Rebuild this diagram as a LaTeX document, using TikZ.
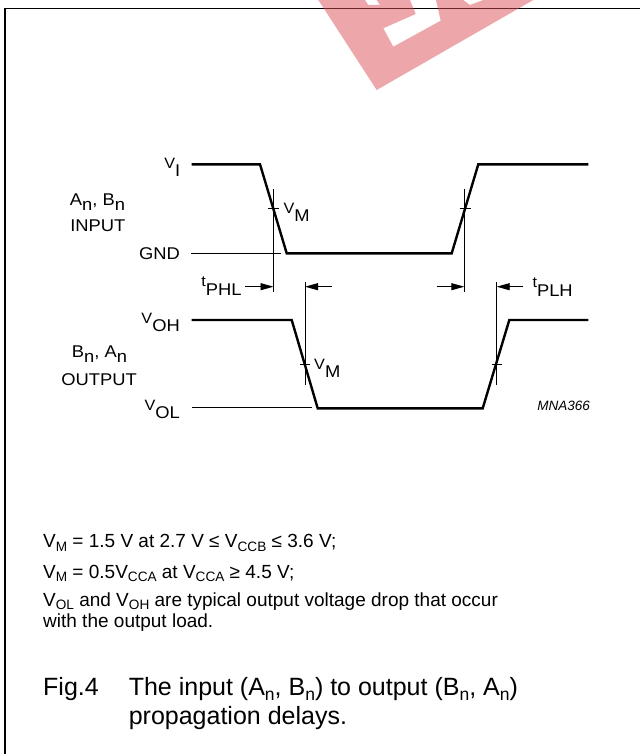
\documentclass[tikz,border=0pt]{standalone}
\usepackage{fontspec}
\setmainfont{Liberation Sans}
\newfontfamily\lblfont{Liberation Sans}[FakeStretch=1.08]
\usetikzlibrary{arrows.meta}
\definecolor{wmred}{RGB}{219,77,83}
\newcommand\Vsub[1]{{\fontsize{15bp}{15bp}\selectfont V}\raisebox{-8bp}{#1}}
\newcommand\tsub[1]{{\fontsize{15bp}{15bp}\selectfont t}\raisebox{-9bp}{#1}}
\newcommand\nsub{\raisebox{-5.5bp}{n}}
\newcommand\ssub[1]{\raisebox{-3.5bp}{\fontsize{13.6bp}{13.6bp}\selectfont #1}}
\newcommand\csub[1]{\raisebox{-5bp}{\fontsize{17.5bp}{17.5bp}\selectfont #1}}
\begin{document}
\begin{tikzpicture}[x=1bp,y=-1bp,
  wave/.style={line width=2.4bp, line join=miter},
  thinline/.style={line width=0.9bp},
  dimarrow/.style={line width=0.9bp, -{Triangle[length=13bp,width=7bp]}},
  lbl/.style={inner sep=0pt, font=\lblfont\fontsize{17bp}{20bp}\selectfont},
  note/.style={inner sep=0pt, anchor=base west, font=\fontsize{19bp}{22bp}\selectfont},
  captxt/.style={inner sep=0pt, anchor=base west, font=\fontsize{25bp}{30bp}\selectfont}]
\useasboundingbox (0,0) rectangle (640,754);
% frame
\coordinate (fb) at (5,754);
\coordinate (fc) at (5,8.5);
\coordinate (fr) at (640,8.5);
\draw[line width=1.6bp] (fb) -- (fc) -- (fr);
% watermark
\fill[wmred, opacity=0.5, even odd rule]
  (318.3,0) -- (533.3,0) -- (376.7,90) -- cycle
  (383.3,28.3) -- (393.3,46.7) -- (440.7,20.7) -- (436,0) -- (410,0) -- (415.7,14) -- cycle
  (365,0) -- (376.7,0) -- (380,5) -- (368.3,5) -- cycle
  (463.3,0) -- (483.3,0) -- (470,5) -- cycle;
% input waveform
\coordinate (iA) at (191.7,164.3);
\coordinate (iB) at (260,164.3);
\coordinate (iC) at (286.7,253.3);
\coordinate (iD) at (451.7,253.3);
\coordinate (iE) at (478.3,164.3);
\coordinate (iF) at (588.3,164.3);
\draw[wave] (iA) -- (iB) -- (iC) -- (iD) -- (iE) -- (iF);
\coordinate (g0) at (191,253.3);
\coordinate (g1) at (281,253.3);
\draw[thinline] (g0) -- (g1);
% output waveform
\coordinate (oA) at (191.7,320);
\coordinate (oB) at (291.7,320);
\coordinate (oC) at (317.7,408.3);
\coordinate (oD) at (482.7,408.3);
\coordinate (oE) at (509.3,320);
\coordinate (oF) at (588.3,320);
\draw[wave] (oA) -- (oB) -- (oC) -- (oD) -- (oE) -- (oF);
\coordinate (l0) at (191.7,407.8);
\coordinate (l1) at (311.7,407.8);
\draw[thinline] (l0) -- (l1);
% markers
\coordinate (m1t) at (273.5,189);   \coordinate (m1b) at (273.5,292);
\coordinate (m2t) at (305,282);     \coordinate (m2b) at (305,385);
\coordinate (m3t) at (464.3,189);   \coordinate (m3b) at (464.3,291.5);
\coordinate (m4t) at (496.7,282);   \coordinate (m4b) at (496.7,385);
\draw[thinline] (m1t) -- (m1b);
\draw[thinline] (m2t) -- (m2b);
\draw[thinline] (m3t) -- (m3b);
\draw[thinline] (m4t) -- (m4b);
% ticks
\coordinate (k1a) at (268,208.8);   \coordinate (k1b) at (279,208.8);
\coordinate (k2a) at (300,364.3);   \coordinate (k2b) at (310,364.3);
\coordinate (k3a) at (459.5,208.8); \coordinate (k3b) at (470.5,208.8);
\coordinate (k4a) at (491.7,364.5); \coordinate (k4b) at (501.7,364.5);
\draw[thinline] (k1a) -- (k1b);
\draw[thinline] (k2a) -- (k2b);
\draw[thinline] (k3a) -- (k3b);
\draw[thinline] (k4a) -- (k4b);
% delay arrows
\coordinate (a1s) at (245,286.7);   \coordinate (a1e) at (273.5,286.7);
\coordinate (a2s) at (331.7,286.7); \coordinate (a2e) at (305,286.7);
\coordinate (a3s) at (436.7,286.7); \coordinate (a3e) at (464.3,286.7);
\coordinate (a4s) at (523.3,286.7); \coordinate (a4e) at (496.7,286.7);
\draw[dimarrow] (a1s) -- (a1e);
\draw[dimarrow] (a2s) -- (a2e);
\draw[dimarrow] (a3s) -- (a3e);
\draw[dimarrow] (a4s) -- (a4e);
% labels
\node[lbl, anchor=base east] (vi) at (180.5,168.3) {\Vsub{I}};
\node[lbl, anchor=base] (abin) at (97.5,205) {A\nsub, B\nsub};
\node[lbl, anchor=base] (inp) at (97.8,231.7) {INPUT};
\node[lbl, anchor=base east] (gnd) at (180,259.3) {GND};
\node[lbl, anchor=base west] (vm1) at (283.3,213.3) {\Vsub{M}};
\node[lbl, anchor=base east] (tphl) at (241.7,286.7) {\tsub{PHL}};
\node[lbl, anchor=base west] (tplh) at (532.3,287.3) {\tsub{PLH}};
\node[lbl, anchor=base east] (voh) at (180,323.3) {\Vsub{OH}};
\node[lbl, anchor=base] (baout) at (99.5,357.3) {B\nsub, A\nsub};
\node[lbl, anchor=base] (outp) at (99,385.7) {OUTPUT};
\node[lbl, anchor=base west] (vm2) at (314,369) {\Vsub{M}};
\node[lbl, anchor=base east] (vol) at (180,410) {\Vsub{OL}};
\node[inner sep=0pt, anchor=base east, font=\itshape\fontsize{13.5bp}{15bp}\selectfont] (code) at (590,410.7) {MNA366};
% notes
\node[note] (n1) at (43,547.5) {V\ssub{M} = 1.5 V at 2.7 V ≤ V\ssub{CCB} ≤ 3.6 V;};
\node[note] (n2) at (43,578.3) {V\ssub{M} = 0.5V\ssub{CCA} at V\ssub{CCA} ≥ 4.5 V;};
\node[note] (n3) at (43,606) {V\ssub{OL} and V\ssub{OH} are typical output voltage drop that occur};
\node[note] (n4) at (43,627) {with the output load.};
% caption
\node[captxt] (fig) at (43,695) {Fig.4};
\node[captxt] (c1) at (128.6,695) {The input (A\csub{n}, B\csub{n}) to output (B\csub{n}, A\csub{n})};
\node[captxt] (c2) at (128.6,724.5) {propagation delays.};
\end{tikzpicture}
\end{document}
